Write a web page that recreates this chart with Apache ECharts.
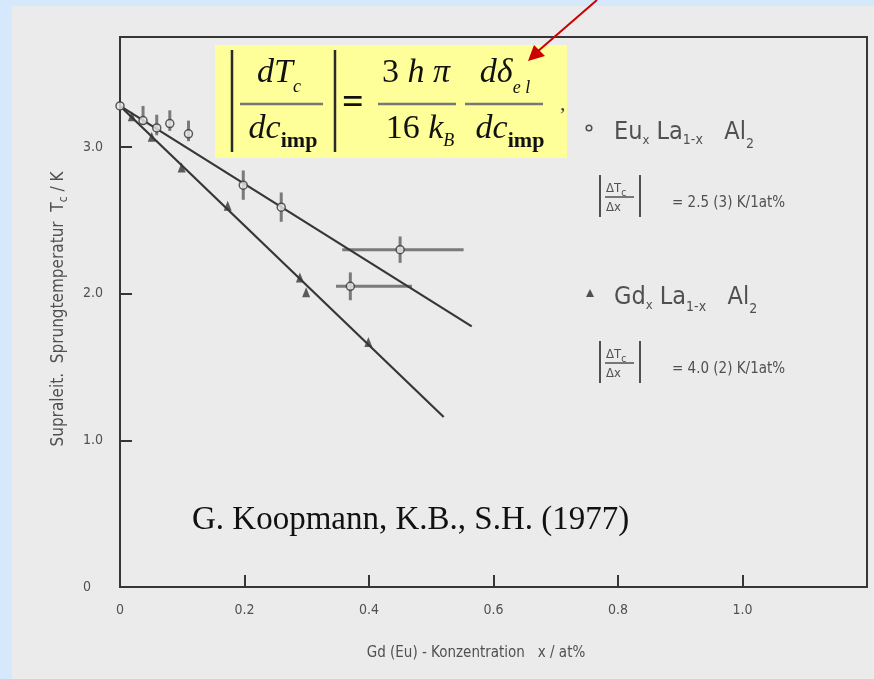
<!DOCTYPE html>
<html>
<head>
<meta charset="utf-8">
<script src="https://cdn.jsdelivr.net/npm/echarts@6/dist/echarts.min.js"></script>
<style>
  html, body { margin: 0; padding: 0; background: #d5e8fc; }
  #chart { width: 874px; height: 679px; }
</style>
</head>
<body>
<div id="chart"></div>
<script>
// Tc of La(1-x)Al2 doped with Eu or Gd, versus concentration x (at%)
const xTicks = [0, 0.2, 0.4, 0.6, 0.8, 1.0];
const yTicks = [0, 1.0, 2.0, 3.0];

// Eu_x La_1-x Al2 : open circles with error bars
const euX     = [0, 0.037, 0.059, 0.080, 0.110, 0.198, 0.259, 0.450, 0.370];
const euY     = [3.28, 3.18, 3.13, 3.16, 3.09, 2.74, 2.59, 2.30, 2.05];
const euErrUp = [0, 0.10, 0.09, 0.09, 0.09, 0.10, 0.10, 0.09, 0.095];
const euErrDn = [0, 0.03, 0.05, 0.05, 0.05, 0.10, 0.10, 0.09, 0.095];
const euXLo   = [null, null, null, null, null, null, null, 0.357, 0.347];
const euXHi   = [null, null, null, null, null, null, null, 0.552, 0.469];

// Gd_x La_1-x Al2 : filled triangles
const gdX = [0.019, 0.051, 0.099, 0.173, 0.289, 0.299, 0.399];
const gdY = [3.21, 3.07, 2.86, 2.60, 2.11, 2.01, 1.67];

// straight-line fits (slope 2.5(3) and 4.0(2) K / at%)
const euFitX = [0, 0.565];
const euFitY = [3.28, 1.777];
const gdFitX = [0, 0.520];
const gdFitY = [3.28, 1.159];

const INK = '#363636';
const GREY = '#505050';
const PAPER = '#ebebeb';
const SANS = '"DejaVu Sans Condensed", "DejaVu Sans", sans-serif';
const SERIF = '"Liberation Serif", "Times New Roman", serif';

const mctx = document.createElement('canvas').getContext('2d');
function fontOf(p) {
  return (p.italic ? 'italic ' : '') + (p.bold ? 'bold ' : '') + p.size + 'px ' + p.family;
}
function textWidth(p) { mctx.font = fontOf(p); return mctx.measureText(p.text).width; }

// lay out a run of text fragments (baseline-relative) from x, returns graphic elements
function run(x, baseline, parts, fill) {
  const out = [];
  let cx = x;
  parts.forEach(p => {
    const w = textWidth(p);
    out.push({
      type: 'text', silent: true,
      style: {
        text: p.text, x: cx, y: baseline + (p.dy || 0) - 0.34 * p.size,
        font: fontOf(p), fill: p.fill || fill,
        align: 'left', verticalAlign: 'middle'
      }
    });
    cx += w + (p.gap || 0);
  });
  return out;
}
function runWidth(parts) { return parts.reduce((s, p) => s + textWidth(p) + (p.gap || 0), 0); }
function centeredRun(cx, baseline, parts, fill) {
  return run(cx - runWidth(parts) / 2, baseline, parts, fill);
}
function seg(x1, y1, x2, y2, color, w) {
  return { type: 'line', silent: true, shape: { x1, y1, x2, y2 }, style: { stroke: color, lineWidth: w } };
}

const graphics = [];
// scanned sheet
graphics.push({ type: 'rect', z: -10, silent: true, shape: { x: 12, y: 6, width: 870, height: 680 }, style: { fill: PAPER } });

// formula box
const FS = 34;
const F = (text, extra) => Object.assign({ text, size: FS, family: SERIF, italic: true }, extra || {});
const S = (text, size, dy, extra) => Object.assign({ text, size, family: SERIF, italic: true, dy }, extra || {});
graphics.push({ type: 'rect', z: 5, silent: true, shape: { x: 215, y: 45, width: 352, height: 113 }, style: { fill: '#ffff99' } });
const formula = [];
formula.push(seg(232, 50, 232, 152, '#2a2a2a', 2.5));
formula.push(seg(335, 50, 335, 152, '#2a2a2a', 2.5));
formula.push(...centeredRun(279, 85, [F('d'), F('T', { gap: 0 }), S('c', 18, 8)], '#111'));
formula.push(seg(240, 104, 323, 104, '#777', 2.5));
formula.push(...centeredRun(283, 141, [F('d'), F('c'), S('imp', 22, 8, { italic: false, bold: true })], '#111'));
formula.push(...run(342, 117, [{ text: '=', size: 38, family: SERIF, bold: true }], '#111'));
formula.push(...centeredRun(416, 85, [F('3', { italic: false }), F(' h '), F('π')], '#111'));
formula.push(seg(378, 104, 456, 104, '#777', 2.5));
formula.push(...centeredRun(420, 141, [F('16', { italic: false }), F(' k'), S('B', 18, 6)], '#111'));
formula.push(...centeredRun(505, 85, [F('d'), F('δ'), S('e l', 18, 9)], '#111'));
formula.push(seg(465, 104, 543, 104, '#777', 2.5));
formula.push(...centeredRun(510, 141, [F('d'), F('c'), S('imp', 22, 8, { italic: false, bold: true })], '#111'));
formula.push(...run(560, 112, [{ text: ',', size: 22, family: SERIF }], '#444'));
formula.forEach(g => { g.z = 6; graphics.push(g); });

// red pointer
graphics.push(Object.assign(seg(597, 0, 537, 52, '#cc0000', 2), { z: 7 }));
graphics.push({ type: 'polygon', z: 7, silent: true,
  shape: { points: [[528, 61], [534, 45], [545, 56]] }, style: { fill: '#cc0000' } });

// legend block
const L = (text, size, dy) => ({ text, size, family: SANS, dy: dy || 0 });
graphics.push({ type: 'circle', silent: true, shape: { cx: 589, cy: 128, r: 2.8 }, style: { fill: PAPER, stroke: GREY, lineWidth: 1.5 } });
graphics.push(...run(614, 141, [L('Eu', 25), L('x', 13, 4), L(' La', 25), L('1-x', 14, 4), L('   Al', 25), L('2', 14, 8)], GREY));
graphics.push({ type: 'polygon', silent: true, shape: { points: [[586, 297], [594, 297], [590, 289]] }, style: { fill: GREY } });
graphics.push(...run(614, 306, [L('Gd', 25), L('x', 13, 4), L(' La', 25), L('1-x', 14, 6), L('   Al', 25), L('2', 14, 8)], GREY));

function ratioBlock(top, valueText) {
  const els = [];
  els.push(seg(600, top, 600, top + 42, GREY, 2));
  els.push(seg(640, top, 640, top + 42, GREY, 2));
  els.push(...run(606, top + 18, [L('ΔT', 13), L('c', 10, 4)], GREY));
  els.push(seg(605, top + 22, 634, top + 22, GREY, 1.5));
  els.push(...run(606, top + 37, [L('Δx', 13)], GREY));
  els.push(...run(672, top + 33, [L(valueText, 15)], GREY));
  return els;
}
graphics.push(...ratioBlock(175, '= 2.5 (3) K/1at%'));
graphics.push(...ratioBlock(341, '= 4.0 (2) K/1at%'));

// axis titles
const yTitleParts = [L('Supraleit.  Sprungtemperatur  T', 17), L('c', 12, 4), L(' / K', 17)];
const yTitleW = runWidth(yTitleParts);
graphics.push({ type: 'group', x: 64, y: 309 + yTitleW / 2, rotation: Math.PI / 2, children: run(0, 0, yTitleParts, GREY) });
graphics.push(...centeredRun(476, 658, [L('Gd (Eu) - Konzentration   x / at%', 15)], GREY));

// citation
graphics.push(...run(192, 532, [{ text: 'G. Koopmann, K.B., S.H. (1977)', size: 33, family: SERIF }], '#111'));

// error bar drawing for the Eu points
function errorBars(params, api) {
  const x = api.value(0), y = api.value(1);
  const up = api.value(2), dn = api.value(3);
  const xl = api.value(4), xh = api.value(5);
  const children = [];
  const style = { stroke: '#7a7a7a', lineWidth: 3 };
  if (up > 0 || dn > 0) {
    const a = api.coord([x, y + up]), b = api.coord([x, y - dn]);
    children.push({ type: 'line', shape: { x1: a[0], y1: a[1], x2: b[0], y2: b[1] }, style });
  }
  if (!isNaN(xl) && xl !== null) {
    const a = api.coord([xl, y]), b = api.coord([xh, y]);
    children.push({ type: 'line', shape: { x1: a[0], y1: a[1], x2: b[0], y2: b[1] }, style });
  }
  return { type: 'group', children };
}

const chart = echarts.init(document.getElementById('chart'), null, { renderer: 'canvas' });
chart.setOption({
  backgroundColor: 'transparent',
  animation: false,
  grid: { left: 120, right: 7, top: 37, bottom: 92, show: true, borderColor: INK, borderWidth: 2, backgroundColor: 'transparent', z: 1 },
  xAxis: {
    type: 'value', min: 0, max: 1.2, interval: 0.2,
    axisLine: { show: true, lineStyle: { color: INK, width: 2 } },
    axisTick: { show: true, inside: true, length: 12, lineStyle: { color: INK, width: 2 } },
    splitLine: { show: false },
    axisLabel: {
      margin: 16, color: GREY, fontFamily: SANS, fontSize: 14,
      formatter: v => {
        const t = xTicks.find(k => Math.abs(k - v) < 1e-6);
        return t === undefined ? '' : (t === 0 ? '0' : t.toFixed(1));
      }
    }
  },
  yAxis: {
    type: 'value', min: 0, max: 3.75, interval: 1,
    axisLine: { show: true, lineStyle: { color: INK, width: 2 } },
    axisTick: { show: true, inside: true, length: 12, lineStyle: { color: INK, width: 2 } },
    splitLine: { show: false },
    axisLabel: {
      margin: 37, align: 'left', color: GREY, fontFamily: SANS, fontSize: 14,
      formatter: v => {
        const t = yTicks.find(k => Math.abs(k - v) < 1e-6);
        return t === undefined ? '' : (t === 0 ? '0' : t.toFixed(1));
      }
    }
  },
  graphic: graphics,
  series: [
    {
      type: 'line', name: 'Eu fit', data: euFitX.map((x, i) => [x, euFitY[i]]),
      showSymbol: false, lineStyle: { color: INK, width: 2.2 }, z: 3, silent: true
    },
    {
      type: 'line', name: 'Gd fit', data: gdFitX.map((x, i) => [x, gdFitY[i]]),
      showSymbol: false, lineStyle: { color: INK, width: 2.2 }, z: 3, silent: true
    },
    {
      type: 'custom', name: 'Eu errors', renderItem: errorBars, z: 2, silent: true,
      data: euX.map((x, i) => [x, euY[i], euErrUp[i], euErrDn[i],
        euXLo[i] === null ? NaN : euXLo[i], euXHi[i] === null ? NaN : euXHi[i]])
    },
    {
      type: 'scatter', name: 'Gd', data: gdX.map((x, i) => [x, gdY[i]]),
      symbol: 'triangle', symbolSize: [8, 10], itemStyle: { color: INK }, z: 4, silent: true
    },
    {
      type: 'scatter', name: 'Eu', data: euX.map((x, i) => [x, euY[i]]),
      symbol: 'circle', symbolSize: 8,
      itemStyle: { color: PAPER, borderColor: INK, borderWidth: 1.5 }, z: 5, silent: true
    }
  ]
});
</script>
</body>
</html>
